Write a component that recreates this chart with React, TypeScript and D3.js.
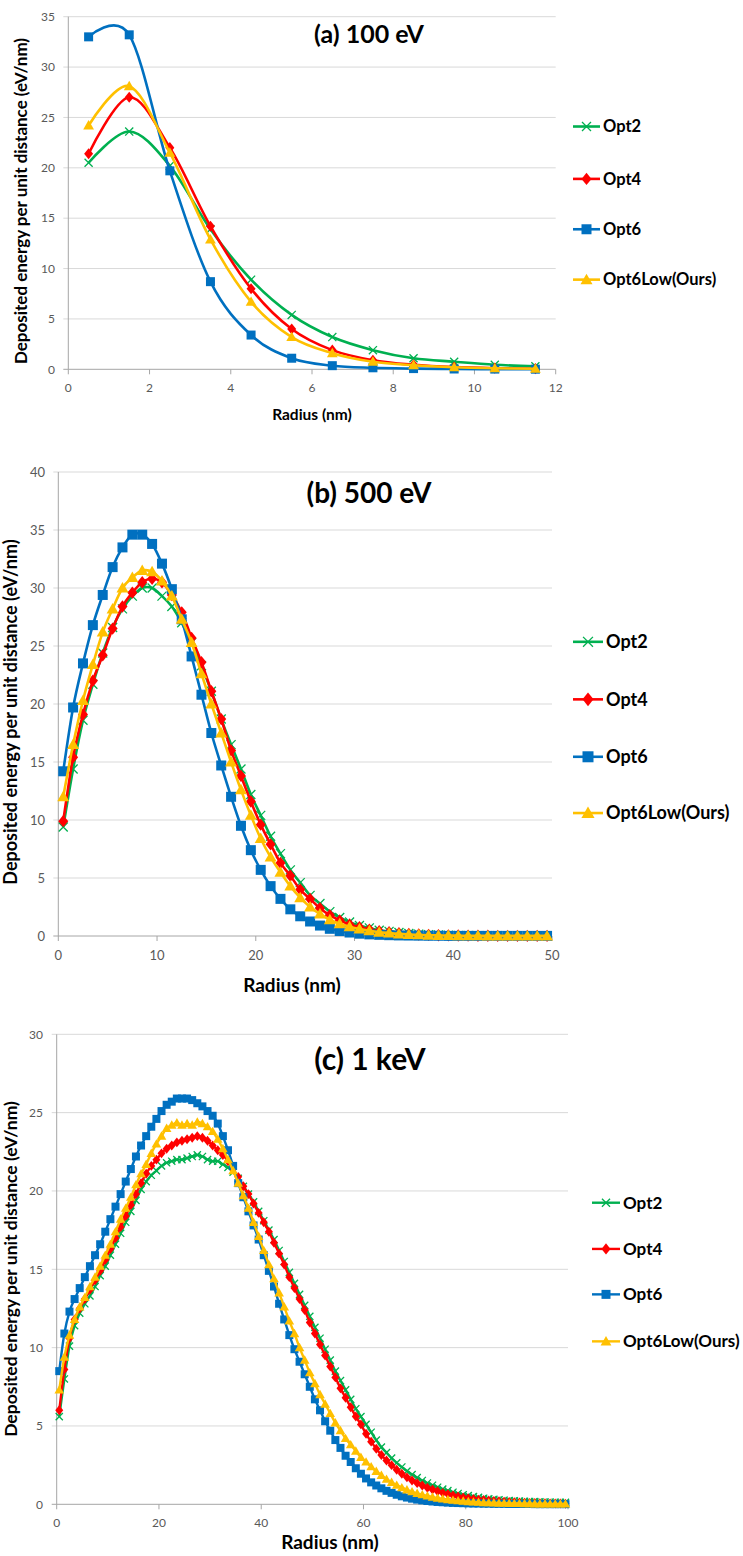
import React from "react";
import * as d3 from "d3";

const SERIES = ["Opt2", "Opt4", "Opt6", "Opt6Low(Ours)"];
const COLORS = ["#00B050", "#FF0000", "#0070C0", "#FFC000"];
const SHAPES = ["x", "diamond", "square", "triangle"];
const FONT = "Lato, 'Noto Sans', sans-serif";

// ---------- (a) 100 eV ----------
const radiusA = [0.5, 1.5, 2.5, 3.5, 4.5, 5.5, 6.5, 7.5, 8.5, 9.5, 10.5, 11.5];
const aOpt2 = [20.5, 23.6, 20.2, 13.9, 8.9, 5.4, 3.2, 1.9, 1.1, 0.75, 0.45, 0.3];
const aOpt4 = [21.4, 27.0, 22.0, 14.2, 8.0, 4.0, 1.9, 0.9, 0.45, 0.22, 0.11, 0.06];
const aOpt6 = [33.0, 33.2, 19.7, 8.7, 3.4, 1.1, 0.36, 0.15, 0.07, 0.03, 0.02, 0.01];
const aOpt6Low = [24.2, 28.1, 21.5, 12.9, 6.7, 3.2, 1.6, 0.75, 0.4, 0.2, 0.1, 0.05];
const xTicksA = [0, 2, 4, 6, 8, 10, 12];
const yTicksA = [0, 5, 10, 15, 20, 25, 30, 35];

// ---------- (b) 500 eV ----------
const radiusB = d3.range(0.5, 50, 1);
const bOpt2 = [9.4, 14.4, 18.6, 21.7, 24.4, 26.6, 28.2, 29.3, 30.0, 30.0, 29.3, 28.4, 27.0, 25.3, 23.3, 21.1, 18.7, 16.5, 14.4, 12.2, 10.4, 8.6, 7.1, 5.7, 4.6, 3.5, 2.8, 2.1, 1.6, 1.2, 0.9, 0.7, 0.5, 0.4, 0.3, 0.22, 0.16, 0.12, 0.09, 0.07, 0.05, 0.04, 0.03, 0.02, 0.02, 0.01, 0.01, 0.01, 0.01, 0.01];
const bOpt4 = [9.9, 15.4, 19.1, 22.0, 24.2, 26.5, 28.4, 29.6, 30.5, 30.8, 30.5, 29.4, 27.9, 25.7, 23.6, 21.1, 18.7, 16.0, 13.8, 11.6, 9.6, 7.9, 6.3, 5.2, 4.0, 3.2, 2.4, 1.8, 1.35, 1.0, 0.75, 0.55, 0.42, 0.32, 0.24, 0.18, 0.13, 0.1, 0.07, 0.05, 0.04, 0.03, 0.02, 0.02, 0.01, 0.01, 0.01, 0.01, 0.01, 0.01];
const bOpt6 = [14.2, 19.7, 23.5, 26.8, 29.4, 31.8, 33.5, 34.6, 34.6, 33.8, 32.1, 29.9, 27.3, 24.1, 20.8, 17.5, 14.7, 12.0, 9.5, 7.4, 5.7, 4.3, 3.2, 2.3, 1.7, 1.25, 0.9, 0.62, 0.43, 0.3, 0.2, 0.14, 0.1, 0.07, 0.05, 0.04, 0.03, 0.02, 0.02, 0.01, 0.01, 0.01, 0.01, 0.01, 0.01, 0.01, 0.01, 0.01, 0.01, 0.01];
const bOpt6Low = [12.0, 16.5, 20.3, 23.4, 26.2, 28.2, 30.0, 30.9, 31.5, 31.4, 30.6, 29.3, 27.3, 25.3, 22.6, 20.0, 17.5, 15.0, 12.6, 10.4, 8.4, 6.8, 5.5, 4.3, 3.3, 2.5, 1.9, 1.4, 1.05, 0.8, 0.6, 0.45, 0.33, 0.25, 0.18, 0.13, 0.1, 0.07, 0.05, 0.04, 0.03, 0.02, 0.02, 0.01, 0.01, 0.01, 0.01, 0.01, 0.01, 0.01];
const xTicksB = [0, 10, 20, 30, 40, 50];
const yTicksB = [0, 5, 10, 15, 20, 25, 30, 35, 40];

// ---------- (c) 1 keV ----------
const radiusC = d3.range(0.5, 100, 1);
const cOpt2 = [
  5.6, 8.0, 10.1, 11.4, 12.2, 12.8, 13.3, 13.9, 14.6, 15.2,
  15.9, 16.6, 17.3, 18.0, 18.7, 19.4, 20.1, 20.6, 21.0, 21.3,
  21.6, 21.8, 21.9, 22.0, 22.0, 22.1, 22.2, 22.3, 22.2, 22.0,
  21.9, 21.9, 21.7, 21.5, 21.2, 20.8, 20.3, 19.8, 19.3, 18.7,
  18.1, 17.5, 16.9, 16.2, 15.5, 14.8, 14.1, 13.4, 12.7, 12.0,
  11.3, 10.6, 9.9, 9.2, 8.5, 7.9, 7.3, 6.7, 6.1, 5.6,
  5.1, 4.6, 4.1, 3.65, 3.3, 2.95, 2.65, 2.38, 2.12, 1.9,
  1.7, 1.52, 1.36, 1.22, 1.09, 0.97, 0.87, 0.77, 0.69, 0.61,
  0.55, 0.49, 0.44, 0.39, 0.35, 0.32, 0.29, 0.26, 0.24, 0.22,
  0.2, 0.19, 0.18, 0.17, 0.16, 0.15, 0.14, 0.13, 0.12, 0.12,
];
const cOpt4 = [
  6.0, 8.6, 10.6, 11.8, 12.5, 13.1, 13.7, 14.3, 14.9, 15.6,
  16.3, 17.0, 17.7, 18.4, 19.1, 19.8, 20.5, 21.1, 21.6, 22.0,
  22.4, 22.7, 22.9, 23.1, 23.2, 23.3, 23.4, 23.5, 23.4, 23.2,
  22.9, 22.6, 22.3, 21.9, 21.4, 20.9, 20.3, 19.8, 19.2, 18.6,
  18.0, 17.4, 16.7, 16.0, 15.3, 14.5, 13.8, 13.1, 12.4, 11.6,
  10.9, 10.2, 9.5, 8.8, 8.1, 7.4, 6.8, 6.2, 5.6, 5.1,
  4.5, 4.0, 3.55, 3.15, 2.8, 2.5, 2.2, 1.95, 1.72, 1.52,
  1.35, 1.2, 1.06, 0.94, 0.83, 0.73, 0.65, 0.57, 0.5, 0.44,
  0.39, 0.34, 0.3, 0.27, 0.24, 0.21, 0.19, 0.17, 0.15, 0.13,
  0.12, 0.1, 0.09, 0.08, 0.07, 0.07, 0.06, 0.05, 0.05, 0.04,
];
const cOpt6 = [
  8.5, 10.9, 12.3, 13.1, 13.8, 14.5, 15.2, 15.9, 16.6, 17.4,
  18.2, 19.0, 19.8, 20.6, 21.4, 22.2, 22.9, 23.5, 24.1, 24.6,
  25.1, 25.5, 25.7, 25.9, 25.9, 25.9, 25.8, 25.6, 25.4, 25.1,
  24.8, 24.3, 23.5, 22.6, 21.6, 20.5, 19.6, 18.7, 17.8, 16.9,
  15.9, 14.9, 13.9, 12.8, 11.8, 10.8, 9.9, 9.1, 8.3, 7.5,
  6.7, 6.0, 5.3, 4.7, 4.1, 3.6, 3.1, 2.7, 2.3, 1.95,
  1.65, 1.4, 1.2, 1.02, 0.86, 0.73, 0.61, 0.51, 0.43, 0.36,
  0.3, 0.25, 0.21, 0.18, 0.15, 0.13, 0.11, 0.09, 0.08, 0.07,
  0.06, 0.05, 0.05, 0.04, 0.04, 0.03, 0.03, 0.03, 0.02, 0.02,
  0.02, 0.02, 0.02, 0.01, 0.01, 0.01, 0.01, 0.01, 0.01, 0.01,
];
const cOpt6Low = [
  7.3, 9.4, 10.8, 11.8, 12.6, 13.2, 13.9, 14.5, 15.2, 15.9,
  16.6, 17.4, 18.2, 18.9, 19.6, 20.4, 21.1, 21.7, 22.4, 23.0,
  23.5, 24.0, 24.2, 24.35, 24.2, 24.3, 24.2, 24.4, 24.3, 24.1,
  23.8, 23.3, 22.7, 22.0, 21.3, 20.5, 19.7, 18.9, 18.0, 17.1,
  16.2, 15.3, 14.4, 13.5, 12.6, 11.7, 10.9, 10.0, 9.2, 8.4,
  7.7, 7.0, 6.4, 5.8, 5.2, 4.7, 4.2, 3.8, 3.4, 3.0,
  2.7, 2.4, 2.1, 1.85, 1.6, 1.4, 1.22, 1.06, 0.92, 0.8,
  0.7, 0.61, 0.53, 0.46, 0.4, 0.35, 0.3, 0.26, 0.23, 0.2,
  0.17, 0.15, 0.13, 0.11, 0.1, 0.09, 0.08, 0.07, 0.06, 0.05,
  0.05, 0.04, 0.04, 0.03, 0.03, 0.03, 0.02, 0.02, 0.02, 0.02,
];
const xTicksC = [0, 20, 40, 60, 80, 100];
const yTicksC = [0, 5, 10, 15, 20, 25, 30];

const Y_TITLE = "Deposited energy per unit distance (eV/nm)";
const X_TITLE = "Radius (nm)";

type MarkerProps = { shape: string; x: number; y: number; s: number; color: string };

function Marker({ shape, x, y, s, color }: MarkerProps) {
  if (shape === "square") {
    return <rect x={x - s / 2} y={y - s / 2} width={s} height={s} fill={color} />;
  }
  if (shape === "diamond") {
    const h = s * 0.62, w = s * 0.5;
    return <polygon points={`${x},${y - h} ${x + w},${y} ${x},${y + h} ${x - w},${y}`} fill={color} />;
  }
  if (shape === "triangle") {
    const w = s * 0.6;
    return <polygon points={`${x},${y - s * 0.6} ${x + w},${y + s * 0.45} ${x - w},${y + s * 0.45}`} fill={color} />;
  }
  const d = s * 0.45;
  return (
    <path
      d={`M${x - d},${y - d}L${x + d},${y + d}M${x - d},${y + d}L${x + d},${y - d}`}
      stroke={color}
      strokeWidth={1.3}
      fill="none"
    />
  );
}

type PanelProps = {
  left: number; right: number; top: number; bottom: number;
  xDomain: [number, number]; yDomain: [number, number];
  xTicks: number[]; yTicks: number[];
  radius: number[]; series: number[][];
  title: string; titleX: number; titleY: number; titleSize: number;
  tickSize: number; yLabelRight: number; xLabelY: number;
  xTitleSize: number; yTitleSize: number; xTitleX: number; xTitleY: number; yTitleX: number; yTitleY: number;
  legendX0: number; legendX1: number; legendTextX: number; legendAt: number[]; legendSize: number;
  markerSize: number; lineWidth: number;
};

function Panel(p: PanelProps) {
  const x = d3.scaleLinear().domain(p.xDomain).range([p.left, p.right]);
  const y = d3.scaleLinear().domain(p.yDomain).range([p.bottom, p.top]);
  const line = d3
    .line<[number, number]>()
    .x((d) => x(d[0]))
    .y((d) => y(d[1]))
    .curve(d3.curveCatmullRom.alpha(0));
  const gridColor = "#D9D9D9";
  const axisColor = "#A6A6A6";
  return (
    <g fontFamily={FONT}>
      {p.yTicks.map((t) => (
        <g key={"gy" + t}>
          <line x1={p.left - 5} x2={p.right} y1={y(t)} y2={y(t)} stroke={t === 0 ? axisColor : gridColor} strokeWidth={1} />
          <text x={p.yLabelRight} y={y(t)} dy="0.35em" textAnchor="end" fontSize={p.tickSize} fill="#595959">
            {t}
          </text>
        </g>
      ))}
      <line x1={p.left} x2={p.left} y1={p.top} y2={p.bottom} stroke={axisColor} strokeWidth={1} />
      {p.xTicks.map((t) => (
        <g key={"gx" + t}>
          <line x1={x(t)} x2={x(t)} y1={p.bottom} y2={p.bottom + 5} stroke={axisColor} strokeWidth={1} />
          <text x={x(t)} y={p.xLabelY} dy="0.35em" textAnchor="middle" fontSize={p.tickSize} fill="#595959">
            {t}
          </text>
        </g>
      ))}
      {p.series.map((vals, si) => {
        const pts: [number, number][] = p.radius.map((r, i) => [r, vals[i]]);
        return (
          <g key={"s" + si}>
            <path d={line(pts) || ""} fill="none" stroke={COLORS[si]} strokeWidth={p.lineWidth} strokeLinejoin="round" />
            {pts.map((d, i) => (
              <Marker key={i} shape={SHAPES[si]} x={x(d[0])} y={y(d[1])} s={p.markerSize} color={COLORS[si]} />
            ))}
          </g>
        );
      })}
      <text x={p.titleX} y={y(p.titleY)} dy="0.35em" textAnchor="middle" fontSize={p.titleSize} fontWeight="bold" fill="#000">
        {p.title}
      </text>
      <text x={p.xTitleX} y={p.xTitleY} dy="0.35em" textAnchor="middle" fontSize={p.xTitleSize} fontWeight="bold" fill="#000">
        {X_TITLE}
      </text>
      <text
        transform={`translate(${p.yTitleX},${p.yTitleY}) rotate(-90)`}
        dy="0.35em"
        textAnchor="middle"
        fontSize={p.yTitleSize}
        fontWeight="bold"
        fill="#000"
      >
        {Y_TITLE}
      </text>
      {SERIES.map((name, si) => {
        const ly = y(p.legendAt[si]);
        const mx = (p.legendX0 + p.legendX1) / 2;
        return (
          <g key={"l" + si}>
            <line x1={p.legendX0} x2={p.legendX1} y1={ly} y2={ly} stroke={COLORS[si]} strokeWidth={p.lineWidth} />
            <Marker shape={SHAPES[si]} x={mx} y={ly} s={p.markerSize + 1} color={COLORS[si]} />
            <text x={p.legendTextX} y={ly} dy="0.35em" fontSize={p.legendSize} fontWeight="bold" fill="#000">
              {name}
            </text>
          </g>
        );
      })}
    </g>
  );
}

export default function App() {
  return (
    <svg
      width={743}
      height={1556}
      style={{ position: "absolute", left: 0, top: 0, background: "#fff" }}
    >
      <rect x={0} y={0} width={743} height={1556} fill="#fff" />
      <Panel
        left={68.3} right={555.7} top={16.7} bottom={369.3}
        xDomain={[0, 12]} yDomain={[0, 35]}
        xTicks={xTicksA} yTicks={yTicksA}
        radius={radiusA} series={[aOpt2, aOpt4, aOpt6, aOpt6Low]}
        title="(a) 100 eV" titleX={369} titleY={33.3} titleSize={25}
        tickSize={12} yLabelRight={55} xLabelY={388}
        xTitleSize={15.5} yTitleSize={17} xTitleX={312} xTitleY={415} yTitleX={21} yTitleY={201}
        legendX0={573} legendX1={600} legendTextX={603} legendAt={[24.1, 18.9, 13.9, 8.9]} legendSize={16.5}
        markerSize={9} lineWidth={2.6}
      />
      <Panel
        left={58.3} right={552} top={472} bottom={936}
        xDomain={[0, 50]} yDomain={[0, 40]}
        xTicks={xTicksB} yTicks={yTicksB}
        radius={radiusB} series={[bOpt2, bOpt4, bOpt6, bOpt6Low]}
        title="(b) 500 eV" titleX={369} titleY={38.2} titleSize={28}
        tickSize={13} yLabelRight={45} xLabelY={955}
        xTitleSize={19} yTitleSize={18} xTitleX={292} xTitleY={985} yTitleX={11} yTitleY={712}
        legendX0={573} legendX1={603} legendTextX={606} legendAt={[25.36, 20.4, 15.45, 10.6]} legendSize={18}
        markerSize={10} lineWidth={2.6}
      />
      <Panel
        left={56.7} right={568} top={1034.3} bottom={1504.3}
        xDomain={[0, 100]} yDomain={[0, 30]}
        xTicks={xTicksC} yTicks={yTicksC}
        radius={radiusC} series={[cOpt2, cOpt4, cOpt6, cOpt6Low]}
        title="(c) 1 keV" titleX={370} titleY={28.4} titleSize={30}
        tickSize={12} yLabelRight={43} xLabelY={1523}
        xTitleSize={19} yTitleSize={17.5} xTitleX={330} xTitleY={1542} yTitleX={11} yTitleY={1269}
        legendX0={592} legendX1={620} legendTextX={623} legendAt={[19.25, 16.3, 13.4, 10.4]} legendSize={17}
        markerSize={8} lineWidth={2.4}
      />
    </svg>
  );
}
